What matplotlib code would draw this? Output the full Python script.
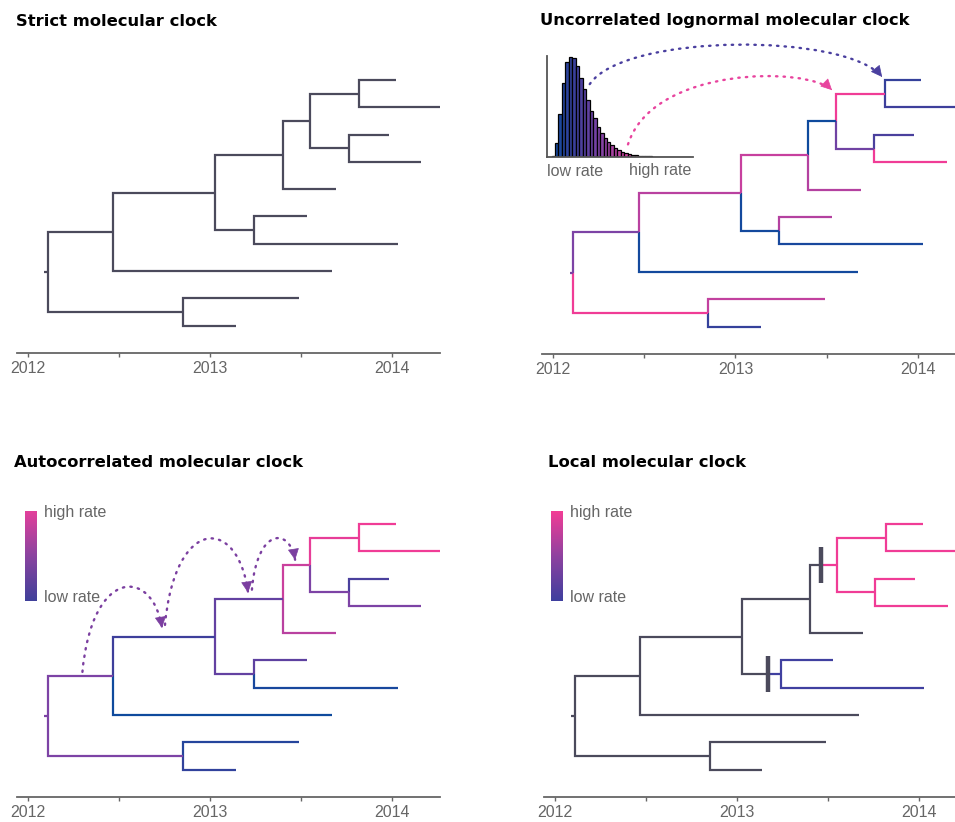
import numpy as np
import matplotlib
matplotlib.use("Agg")
import matplotlib.pyplot as plt
from matplotlib.colors import LinearSegmentedColormap
from matplotlib.patches import FancyArrowPatch, PathPatch
from matplotlib.path import Path

# figure size in pixels (dpi 100)
W, H = 955, 822

GRAY = "#4b4a5c"
TEXT_GRAY = "#666666"
PINK = "#f03c96"
INDIGO = "#4040a0"

# ---- tree data (same tree in all four panels) ----
tip_names = ["t1", "t2", "t3", "t4", "t5", "t6", "t7", "t8", "t9", "t10"]
tip_times = [2014.02, 2014.26, 2013.98, 2014.16, 2013.69,
             2013.53, 2014.03, 2013.67, 2013.49, 2013.14]
node_names = ["A", "B", "C", "D", "E", "F", "G", "H", "root"]
node_times = [2013.82, 2013.76, 2013.55, 2013.40, 2013.24,
              2013.03, 2012.47, 2012.85, 2012.11]
node_children = [("t1", "t2"), ("t3", "t4"), ("A", "B"), ("C", "t5"), ("t6", "t7"),
                 ("D", "E"), ("F", "t8"), ("t9", "t10"), ("G", "H")]
root_stub_start = 2012.09

year_ticks = [2012, 2013, 2014]
half_year_ticks = [2012.5, 2013.5]

# branch rates (0 = low / blue, 1 = high / pink), keyed by child node
ucld_rates = {"root": 0.5, "G": 0.5, "H": 1.0, "t8": 0.02, "F": 0.72, "D": 0.78,
              "E": 0.02, "t6": 0.7, "t7": 0.05, "t5": 0.7, "C": 0.0, "A": 1.0,
              "B": 0.45, "t1": 0.2, "t2": 0.25, "t3": 0.3, "t4": 1.0,
              "t9": 0.75, "t10": 0.2}
acld_rates = {"root": 0.5, "G": 0.5, "H": 0.5, "t9": 0.12, "t10": 0.18, "t8": 0.0,
              "F": 0.25, "D": 0.4, "E": 0.4, "t6": 0.38, "t7": 0.05, "t5": 0.72,
              "C": 0.8, "A": 0.95, "t1": 1.0, "t2": 1.0, "B": 0.5, "t3": 0.3,
              "t4": 0.5}
# local clock: clades with their own rate and where the rate shift happens
local_high_clade = ["C", "A", "B", "t1", "t2", "t3", "t4"]
local_low_clade = ["E", "t6", "t7"]
local_shift_times = {"C": 2013.46, "E": 2013.17}

# lognormal rate histogram (relative heights)
rate_hist = [1, 14, 43, 74, 95, 100, 99, 91, 79, 68, 57, 46, 39, 30, 24, 19, 15, 12,
             9, 7, 5, 4, 3, 2.3, 1.7, 1.3, 1, 0.8, 0.6, 0.5, 0.4, 0.3, 0.25, 0.2,
             0.15, 0.1, 0.1, 0.1, 0.05, 0.05]

# dotted arrows: (x0, y0, x1, y1, apex y, colour)
ucld_arrows = [(2012.20, 0.15, 2013.805, -0.11, -1.29, "#4a3f9f"),
               (2012.41, 2.35, 2013.53, 0.37, -0.04, "#e8449e")]
acld_arrows = [(2012.30, 5.42, 2012.737, 3.81, 2.34, "#7b3fa0"),
               (2012.753, 3.70, 2013.209, 2.52, 0.55, "#7b3fa0"),
               (2013.23, 2.41, 2013.467, 1.32, 0.55, "#7b3fa0")]

rate_cmap = LinearSegmentedColormap.from_list(
    "rate", ["#0f4a9d", "#3e3f9b", "#7c43a5", "#c1419f", "#f03c96"])


def fig_rect(x0, y0, x1, y1):
    return [x0 / W, 1 - y1 / H, (x1 - x0) / W, (y1 - y0) / H]


def tree_layout():
    x = dict(zip(tip_names, tip_times))
    y = {n: i for i, n in enumerate(tip_names)}
    for name, t, (a, b) in zip(node_names, node_times, node_children):
        x[name] = t
        y[name] = (y[a] + y[b]) / 2
    return x, y


def draw_tree(ax, color_of, shifts=None):
    x, y = tree_layout()
    kw = dict(lw=1.6, solid_joinstyle="miter", solid_capstyle="butt")
    for parent, kids in zip(node_names, node_children):
        px, py = x[parent], y[parent]
        for child in kids:
            cx, cy = x[child], y[child]
            c = color_of(child)
            if shifts and child in shifts:
                sx = shifts[child]
                ax.plot([px, px, sx], [py, cy, cy], color=GRAY, **kw)
                ax.plot([sx, cx], [cy, cy], color=c, **kw)
                ax.plot([sx, sx], [cy - 0.66, cy + 0.66], color=GRAY, lw=3.2,
                        solid_capstyle="butt", zorder=4)
            else:
                ax.plot([px, px, cx], [py, cy, cy], color=c, **kw)
    ax.plot([root_stub_start, x["root"]], [y["root"], y["root"]],
            color=color_of("root"), **kw)


def draw_arcs(ax, arcs):
    for x0, y0, x1, y1, top, col in arcs:
        yc = (8 * top - y0 - y1) / 6
        dx = x1 - x0
        p2 = (x1 - 0.12 * dx, yc)
        verts = [(x0, y0), (x0 + 0.12 * dx, yc), p2, (x1, y1)]
        path = Path(verts, [Path.MOVETO, Path.CURVE4, Path.CURVE4, Path.CURVE4])
        curve = PathPatch(path, facecolor="none", edgecolor=col, lw=1.7,
                          linestyle=(0, (0.6, 2.6)), capstyle="round",
                          clip_on=False, zorder=5)
        ax.add_patch(curve)
        # solid head pointing along the last control segment
        start = (x1 - 0.02 * (x1 - p2[0]), y1 - 0.02 * (y1 - p2[1]))
        head = FancyArrowPatch(start, (x1, y1),
                               arrowstyle="-|>,head_length=0.6,head_width=0.3",
                               mutation_scale=12, color=col, lw=0.5,
                               clip_on=False, zorder=6, shrinkA=0, shrinkB=0)
        ax.add_patch(head)


def style_axis(ax, xlim):
    ax.set_xlim(xlim)
    ax.set_ylim(10, -1.46)
    for s in ["top", "right", "left"]:
        ax.spines[s].set_visible(False)
    ax.spines["bottom"].set_color(TEXT_GRAY)
    ax.spines["bottom"].set_linewidth(1.3)
    ax.set_yticks([])
    ax.set_xticks(year_ticks)
    ax.set_xticklabels([str(v) for v in year_ticks], family="Liberation Sans")
    ax.set_xticks(half_year_ticks, minor=True)
    ax.tick_params(axis="x", which="both", direction="out", length=3, width=1,
                   color=TEXT_GRAY, labelcolor=TEXT_GRAY, labelsize=11.5, pad=3)
    ax.patch.set_visible(False)


def rate_legend(fig, x0, colors):
    lax = fig.add_axes(fig_rect(x0, 511, x0 + 12, 601))
    cm = LinearSegmentedColormap.from_list("leg", colors)
    lax.imshow(np.linspace(1, 0, 100).reshape(-1, 1), aspect="auto", cmap=cm)
    lax.axis("off")
    fig.text((x0 + 19) / W, 1 - 512 / H, "high rate", color=TEXT_GRAY, fontsize=11.5,
             family="Liberation Sans", va="center")
    fig.text((x0 + 19) / W, 1 - 597 / H, "low rate", color=TEXT_GRAY, fontsize=11.5,
             family="Liberation Sans", va="center")


def title(fig, x, y, s):
    fig.text(x / W, 1 - y / H, s, fontsize=11.8, fontweight="bold",
             family="DejaVu Sans", va="baseline")


fig = plt.figure(figsize=(W / 100, H / 100), dpi=100)

# ---- strict clock ----
ax1 = fig.add_axes(fig_rect(17, 40, 440, 353))
draw_tree(ax1, lambda n: GRAY)
style_axis(ax1, (2011.941, 2014.262))
title(fig, 16, 25.5, "Strict molecular clock")

# ---- uncorrelated lognormal ----
ax2 = fig.add_axes(fig_rect(542, 40, 955, 354))
draw_tree(ax2, lambda n: rate_cmap(ucld_rates[n]))
style_axis(ax2, (2011.938, 2014.205))
draw_arcs(ax2, ucld_arrows)
title(fig, 540, 25, "Uncorrelated lognormal molecular clock")

hax = fig.add_axes(fig_rect(547, 56, 693, 157))
bins = np.arange(len(rate_hist))
hax.bar(bins, rate_hist, width=1, align="edge",
        color=[rate_cmap(min(i / 26, 1)) for i in bins],
        edgecolor="black", linewidth=0.9)
hax.set_xlim(-1.3, 40.8)
hax.set_ylim(0, 101)
for s in ["top", "right"]:
    hax.spines[s].set_visible(False)
for s in ["left", "bottom"]:
    hax.spines[s].set_color("#555555")
    hax.spines[s].set_linewidth(1.3)
hax.set_xticks([])
hax.set_yticks([])
hax.patch.set_visible(False)
fig.text(547 / W, 1 - 171 / H, "low rate", color=TEXT_GRAY, fontsize=11.5,
         family="Liberation Sans", va="center")
fig.text(691 / W, 1 - 171 / H, "high rate", color=TEXT_GRAY, fontsize=11.5,
         family="Liberation Sans", va="center", ha="right")

# ---- autocorrelated ----
ax3 = fig.add_axes(fig_rect(17, 484, 440, 797))
draw_tree(ax3, lambda n: rate_cmap(acld_rates[n]))
style_axis(ax3, (2011.941, 2014.262))
draw_arcs(ax3, acld_arrows)
title(fig, 14, 467, "Autocorrelated molecular clock")
rate_legend(fig, 25, ["#40409a", "#8a44a0", "#e2409b"])


# ---- local clock ----
def local_color(n):
    if n in local_high_clade:
        return PINK
    if n in local_low_clade:
        return INDIGO
    return GRAY


ax4 = fig.add_axes(fig_rect(544, 484, 955, 797))
draw_tree(ax4, local_color, shifts=local_shift_times)
style_axis(ax4, (2011.94, 2014.198))
title(fig, 548, 467, "Local molecular clock")
rate_legend(fig, 551, ["#3f3f9e", "#8f42a0", "#f23d96"])

fig.savefig("out.png", dpi=100)
